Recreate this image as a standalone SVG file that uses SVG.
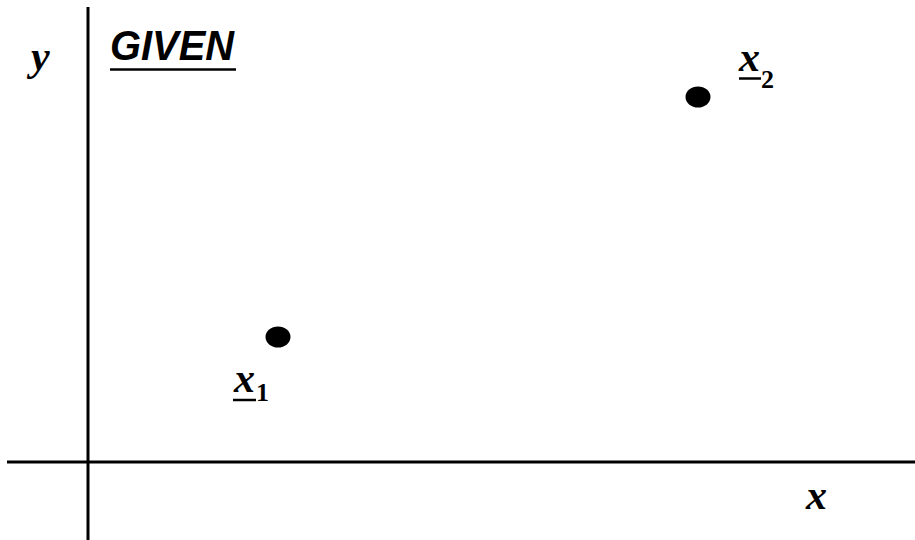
<svg xmlns="http://www.w3.org/2000/svg" width="915" height="540" viewBox="0 0 915 540">
<style>
.axis{stroke:#000;stroke-width:3;fill:none}
.var{font-family:"Liberation Serif",serif;font-weight:bold;font-style:italic;font-size:42px;fill:#000}
.sub{font-family:"Liberation Serif",serif;font-weight:bold;font-size:26px;fill:#000}
.ul{stroke:#000;stroke-width:2.5}
.dot{fill:#000}
</style>
<rect width="915" height="540" fill="#fff"/>
<g id="axes">
<line class="axis" x1="88" y1="7" x2="88" y2="540"/>
<line class="axis" x1="7" y1="462" x2="915" y2="462"/>
</g>
<g id="title">
<text x="110" y="60" font-family="Liberation Sans,Arial,sans-serif" font-weight="bold" font-style="italic" font-size="43" textLength="124" lengthAdjust="spacingAndGlyphs">GIVEN</text>
<line class="ul" x1="110" y1="69.5" x2="236" y2="69.5" stroke-width="3"/>
</g>
<g id="label-y"><text class="var" x="31" y="70">y</text></g>
<g id="label-x"><text class="var" x="806" y="509">x</text></g>
<g id="point-x1">
<ellipse class="dot" cx="278" cy="337" rx="12.5" ry="10.5"/>
<text class="var" x="234" y="392">x</text>
<line class="ul" x1="233" y1="400" x2="256" y2="400"/>
<text class="sub" x="256" y="401">1</text>
</g>
<g id="point-x2">
<ellipse class="dot" cx="698" cy="97" rx="12.5" ry="10.5"/>
<text class="var" x="739" y="71">x</text>
<line class="ul" x1="739" y1="78.5" x2="761" y2="78.5"/>
<text class="sub" x="761" y="88">2</text>
</g>
</svg>
